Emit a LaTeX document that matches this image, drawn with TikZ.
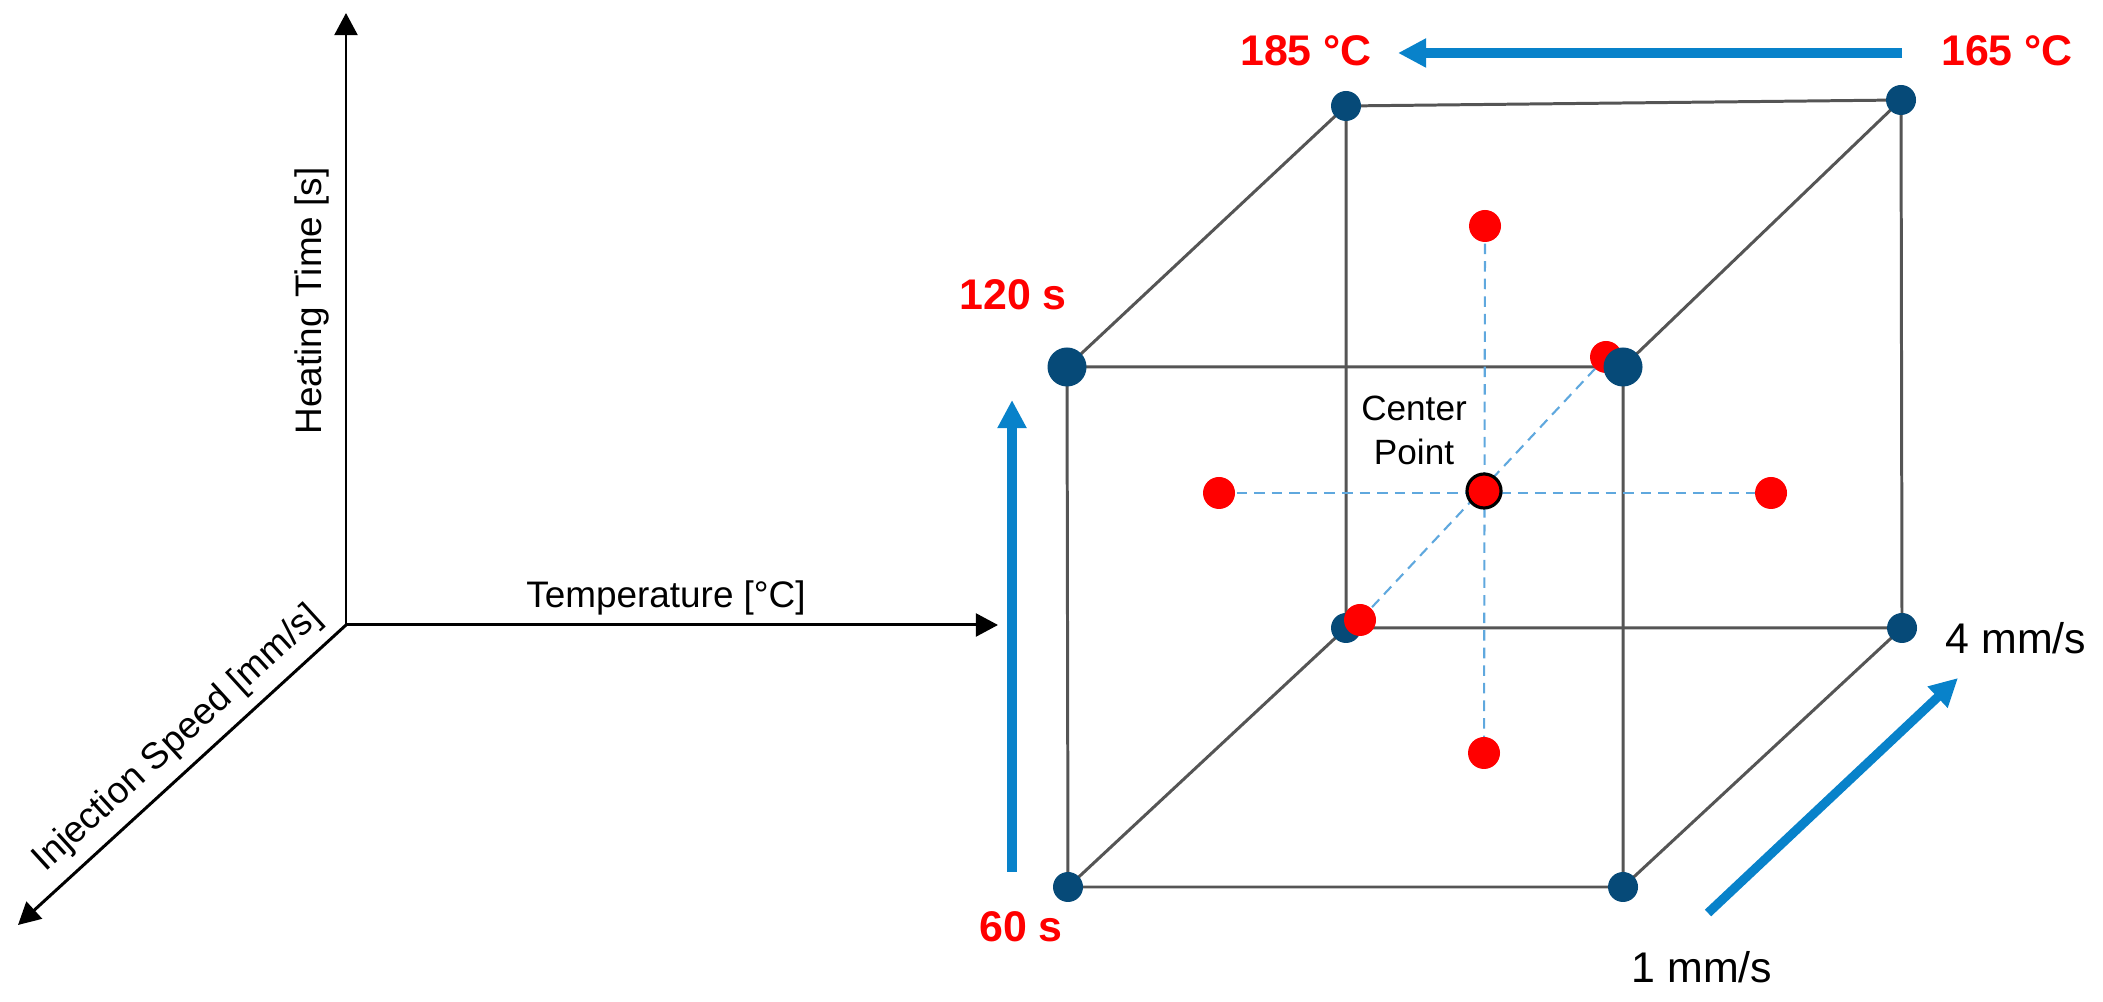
\documentclass[tikz,border=0pt]{standalone}
\usepackage{fontspec}
\setmainfont{Liberation Sans}
\usetikzlibrary{arrows.meta}
\definecolor{navy}{RGB}{6,74,120}
\definecolor{trendblue}{RGB}{8,130,202}
\definecolor{starblue}{RGB}{95,168,222}
\definecolor{cubegray}{RGB}{85,85,85}

\begin{document}
\begin{tikzpicture}[x=0.1mm,y=-0.1mm,
    axis/.style={line width=0.85pt,-{Triangle[length=6.3pt,width=6.5pt]}},
    cubeline/.style={cubegray,line width=0.85pt},
    starline/.style={starblue,line width=0.6pt,dash pattern=on 3pt off 2pt},
    trend/.style={trendblue,line width=2.6pt,-{Triangle[length=8pt,width=7.8pt]}},
    corner/.style={circle,fill=navy,inner sep=0pt,minimum size=3mm},
    bigcorner/.style={corner,minimum size=3.9mm},
    reddot/.style={circle,fill=red,inner sep=0pt,minimum size=3.2mm},
    redlabel/.style={text=red,font=\fontsize{12.2}{14}\selectfont\bfseries},
    blacklabel/.style={font=\fontsize{12.2}{14}\selectfont},
    axlabel/.style={font=\fontsize{10.5}{12.5}\selectfont}]
  \useasboundingbox (0,0) rectangle (2103,1002);

  % factor axes
  \coordinate (O) at (346,625);
  \coordinate (tmax) at (346,13);
  \coordinate (Tmax) at (998,625);
  \coordinate (vmax) at (18,925);
  \draw[axis] (O) -- (tmax);
  \draw[axis] (O) -- (Tmax);
  \draw[axis] (O) -- (vmax);
  \node[axlabel,rotate=90] (tlabel) at (312,301) {Heating Time [s]};
  \node[axlabel] (Tlabel) at (666,598) {Temperature [°C]};
  \node[axlabel,rotate=42.4] (vlabel) at (178,739) {Injection Speed [mm/s]};

  % cube corners
  \coordinate (ftl) at (1067,367);
  \coordinate (ftr) at (1623,367);
  \coordinate (fbl) at (1068,887);
  \coordinate (fbr) at (1623,887);
  \coordinate (btl) at (1346,106);
  \coordinate (btr) at (1901,100);
  \coordinate (bbl) at (1346,628);
  \coordinate (bbr) at (1902,628);
  \draw[cubeline] (ftl) -- (ftr) -- (fbr) -- (fbl) -- cycle;
  \draw[cubeline] (btl) -- (btr) -- (bbr) -- (bbl) -- cycle;
  \foreach \c in {tl,tr,bl,br}
    \draw[cubeline] (f\c) -- (b\c);

  % star points
  \coordinate (pc) at (1484,491);
  \coordinate (ptop) at (1485,226);
  \coordinate (pbot) at (1484,753);
  \coordinate (pleft) at (1219,493);
  \coordinate (pright) at (1771,493);
  \coordinate (pback) at (1360,620);
  \coordinate (pfront) at (1606,357);
  \draw[starline] (pleft) -- (pright);
  \draw[starline] (ptop) -- (pbot);
  \draw[starline] (pback) -- (pfront);

  \foreach \c in {btl,btr,bbl,bbr}
    \node[corner] (\c-dot) at (\c) {};
  \foreach \p in {ptop,pbot,pleft,pright,pback,pfront}
    \node[reddot] (\p-dot) at (\p) {};
  \node[reddot,minimum size=3.4mm,draw=black,line width=0.9pt] (pc-dot) at (pc) {};
  \node[corner] (fbl-dot) at (fbl) {};
  \node[corner] (fbr-dot) at (fbr) {};
  \node[bigcorner] (ftl-dot) at (ftl) {};
  \node[bigcorner] (ftr-dot) at (ftr) {};
  \node[font=\fontsize{10}{12.5}\selectfont,align=center] (cplabel) at (1414,430) {Center\\Point};

  % levels
  \node[redlabel] (Thigh) at (1306,51) {185 °C};
  \node[redlabel] (Tlow) at (2007,51) {165 °C};
  \node[redlabel] (thigh) at (1013,295) {120 s};
  \node[redlabel] (tlow) at (1021,927) {60 s};
  \node[blacklabel] (vhigh) at (2016,638) {4 mm/s};
  \node[blacklabel] (vlow) at (1702,967) {1 mm/s};

  \coordinate (Tfrom) at (1902,53);
  \coordinate (Tto) at (1398,53);
  \coordinate (tfrom) at (1012,872);
  \coordinate (tto) at (1012,400);
  \coordinate (vfrom) at (1708,913);
  \coordinate (vto) at (1958,678);
  \draw[trend] (Tfrom) -- (Tto);
  \draw[trend] (tfrom) -- (tto);
  \draw[trend] (vfrom) -- (vto);
\end{tikzpicture}
\end{document}
